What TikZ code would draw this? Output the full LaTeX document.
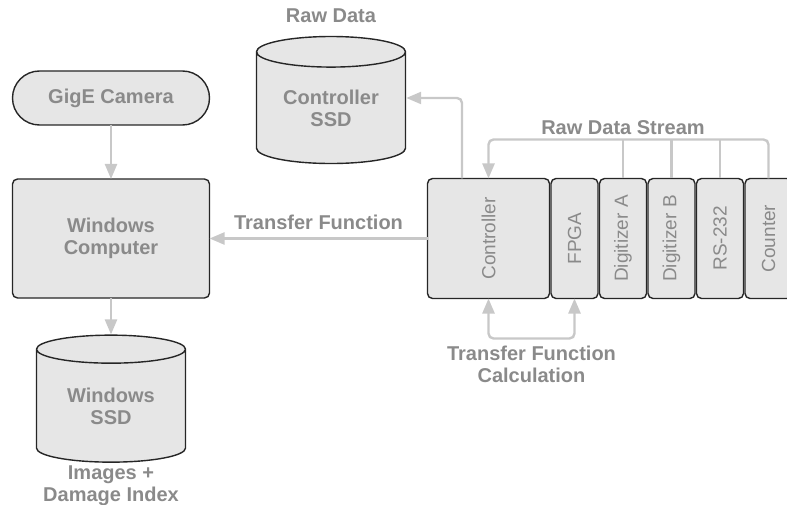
\documentclass[tikz,border=0pt]{standalone}
\usepackage{fontspec}
\setmainfont{Liberation Sans}
\usetikzlibrary{arrows.meta,calc,positioning,shapes.geometric,shapes.misc}
\definecolor{boxfill}{HTML}{E6E6E6}
\definecolor{labelgray}{HTML}{8A8A8A}
\definecolor{wiregray}{HTML}{C8C8C8}
\tikzset{>={Triangle[length=15pt,width=12pt]}}

\begin{document}
\begin{tikzpicture}[x=1pt,y=-1pt,
  blk/.style={draw=black!85,line width=1.4pt,fill=boxfill,rounded corners=5pt,inner sep=0pt,outer sep=0pt},
  card/.style={blk,minimum width=47pt,minimum height=120pt},
  disk/.style={cylinder,shape border rotate=90,aspect=0.32,draw=black!85,line width=1.4pt,
    fill=boxfill,minimum width=149pt,minimum height=127pt,inner sep=0pt},
  txt/.style={text=labelgray,font=\fontsize{20}{22}\selectfont\bfseries,align=center},
  vtxt/.style={text=labelgray,font=\fontsize{19}{21}\selectfont,rotate=90},
  wire/.style={draw=wiregray,line width=2.4pt,rounded corners=5pt}]
\useasboundingbox (0,0) rectangle (787,505);
\clip (0,0) rectangle (787,505);

% left side: camera, PC and its disk
\node[blk,rounded rectangle,rounded corners=0pt,minimum width=197pt,minimum height=54pt,txt] (cam) at (111,98) {GigE Camera};
\node[blk,minimum width=197pt,minimum height=119pt,txt] (pc) at (111,238.5) {Windows\\Computer};
\node[disk,txt] (pcssd) at (111,406) {Windows\\SSD};
\node[txt] (imgs) at (111,486) {Images +\\Damage Index};

% controller disk
\node[disk,txt] (ctrlssd) at (331,108) {Controller\\SSD};
\node[txt] (raw) at (331,16) {Raw Data};

% chassis cards
\node[blk,minimum width=122pt,minimum height=120pt,label={[vtxt]center:Controller}] (ctrl) at (488.5,238.5) {};
\node[card,right=1.5pt of ctrl,label={[vtxt]center:FPGA}] (fpga) {};
\node[card,right=1.5pt of fpga,label={[vtxt]center:Digitizer A}] (diga) {};
\node[card,right=1.5pt of diga,label={[vtxt]center:Digitizer B}] (digb) {};
\node[card,right=1.5pt of digb,label={[vtxt]center:RS-232}] (rs) {};
\node[card,right=1.5pt of rs,label={[vtxt]center:Counter}] (cnt) {};

% connectors
\draw[wire,->] (cam) -- (pc);
\draw[wire,->] (pc) -- (pcssd);
\draw[wire,->] (ctrl) -- (pc) node[txt,midway,above=4pt] (tf) {Transfer Function};
\draw[wire,->] ([xshift=-26.5pt]ctrl.north) |- ([yshift=10pt]ctrlssd.east);

\draw[wire,->] (cnt.north) -- ++(0,-39) coordinate (bus) -| (ctrl.north);
\foreach \c in {rs,digb,diga}
  \draw[wire] (\c.north) -- (\c.north |- bus);
\node[txt,above=1.5pt] (rds) at (diga.north |- bus) {Raw Data Stream};

\draw[wire,<->] (ctrl.south) -- ++(0,40) coordinate (loop) -| (fpga.south);
\node[txt,below=4pt] (tfc) at ($(loop)!0.5!(loop -| fpga.south)$) {Transfer Function\\Calculation};
\end{tikzpicture}
\end{document}
